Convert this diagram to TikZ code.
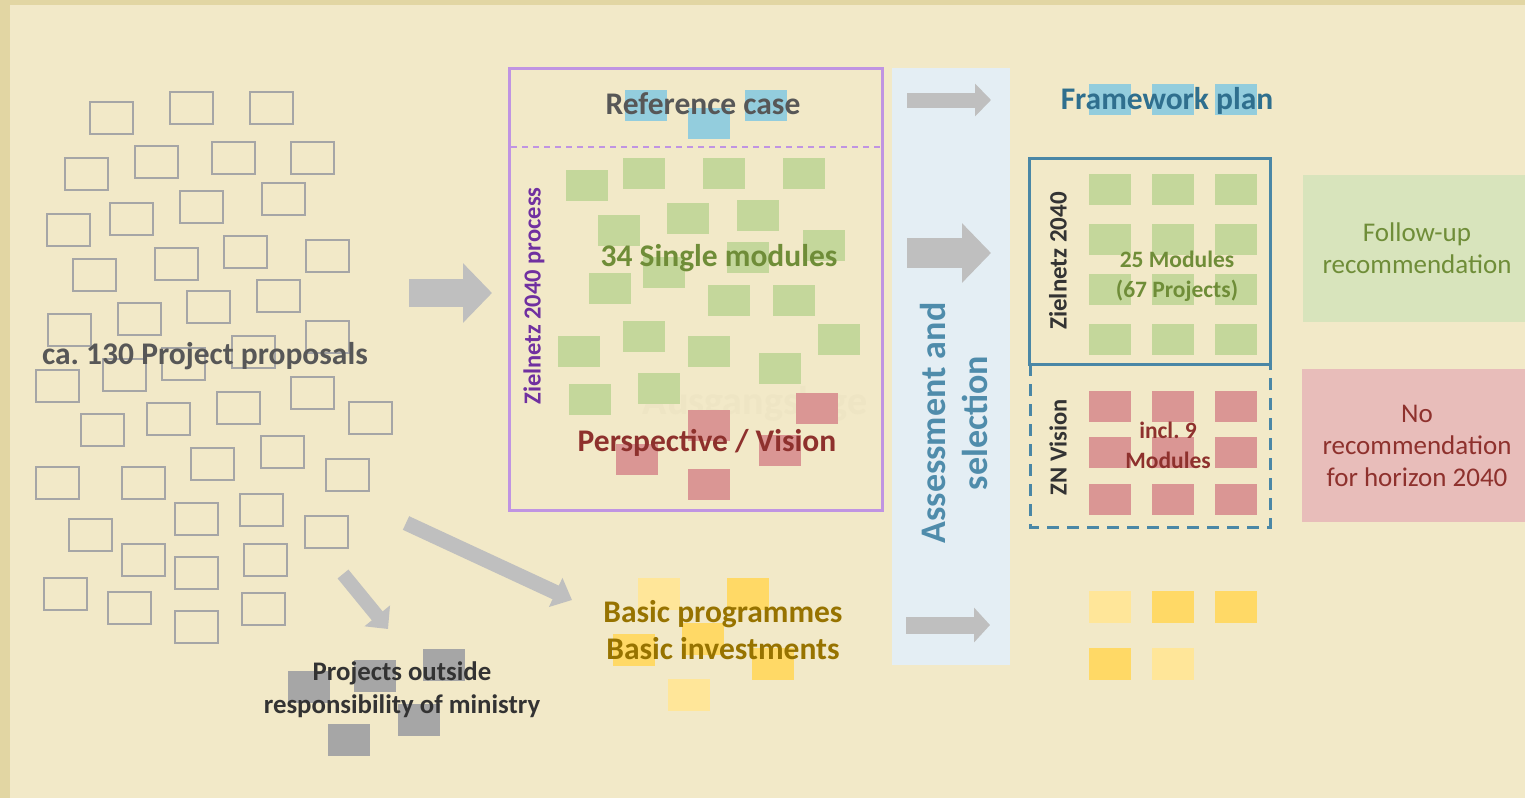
\documentclass[tikz,border=0pt]{standalone}
\usepackage{fontspec}
\setmainfont{Carlito}
\usepackage{tikz}
\usetikzlibrary{arrows.meta}
\frenchspacing

\definecolor{bgbeige}{HTML}{F2E9C8}
\definecolor{framebeige}{HTML}{E2D6A3}
\definecolor{propgrey}{HTML}{A6A6A6}
\definecolor{arrowgrey}{HTML}{BFBFBF}
\definecolor{textgrey}{HTML}{575757}
\definecolor{darkgrey}{HTML}{333333}
\definecolor{modgreen}{HTML}{C4D79B}
\definecolor{txtgreen}{HTML}{6F8D38}
\definecolor{modred}{HTML}{DA9694}
\definecolor{txtred}{HTML}{8E312D}
\definecolor{refblue}{HTML}{93CDDD}
\definecolor{purpleframe}{HTML}{C094E2}
\definecolor{txtpurple}{HTML}{7030A0}
\definecolor{bandblue}{HTML}{E4EEF4}
\definecolor{txtblue}{HTML}{4F8CAB}
\definecolor{txtteal}{HTML}{2F6F8E}
\definecolor{frameteal}{HTML}{4A87A6}
\definecolor{lightyellow}{HTML}{FFE699}
\definecolor{darkyellow}{HTML}{FFD966}
\definecolor{txtgold}{HTML}{977300}
\definecolor{followgreen}{HTML}{D8E4BC}
\definecolor{norecred}{HTML}{E8BDBA}
\definecolor{watermark}{HTML}{EEE5C4}

\begin{document}
\begin{tikzpicture}[x=1pt,y=-1pt,inner sep=0pt,
    proposal/.style={draw=propgrey,line width=2pt},
    blockarrow/.style n args={3}{draw=arrowgrey,line width=#1,-{Triangle[width=#2,length=#3]}},
    big label/.style={font=\bfseries\fontsize{31.5}{37}\selectfont,align=center},
    small label/.style={font=\bfseries\fontsize{23.5}{30}\selectfont,align=center},
    side label/.style={font=\fontsize{27}{32}\selectfont,align=center}]

      \useasboundingbox (0,0) rectangle (1525,798);
      \fill[bgbeige] (0,0) rectangle (1525,798);
      \fill[framebeige] (0,0) rectangle (10,798);
      \fill[framebeige] (0,0) rectangle (1525,5);

      \foreach \x/\y in {90/102,170/92,250/92,65/158,135/146,212/142,291/142,
          47/214,110/203,180/191,262/183,73/259,155/248,224/236,306/240,
          48/314,118/303,187/291,257/280,306/321,232/336,103/359,162/348,
          36/370,217/392,291/377,349/402,81/414,147/403,261/436,36/467,
          122/467,191/448,326/459,69/519,175/503,240/494,305/516,122/544,
          175/557,244/544,44/578,108/592,175/611,242/593}
        \draw[proposal] (\x,\y) rectangle ++(43,32);

      \foreach \x/\y in {288/671,354/660,423/649,398/704,328/724}
        \fill[propgrey] (\x,\y) rectangle ++(42,32);

      \node[font=\bfseries\fontsize{40}{44}\selectfont,text=watermark] (ausgang) at (755,404) {Ausgangslage};
      \draw[purpleframe,line width=3pt] (509,68) rectangle (882,510);
      \draw[purpleframe,line width=1.5pt,dash pattern=on 6pt off 5pt] (511,147) -- (880,147);

      \foreach \x/\y in {625/90,688/108,745/90}
        \fill[refblue] (\x,\y) rectangle ++(42,31);
      \foreach \x/\y in {566/170,623/158,703/158,783/158,598/215,667/203,737/200,
          803/230,727/242,643/257,589/273,708/285,773/285,623/321,558/336,
          688/336,818/324,759/353,569/384,638/373}
        \fill[modgreen] (\x,\y) rectangle ++(42,31);
      \foreach \x/\y in {688/410,796/393,616/444,759/435,688/469}
        \fill[modred] (\x,\y) rectangle ++(42,31);

      \node[big label,text=textgrey] (refcase) at (703,104) {Reference case};
      \node[big label,text=txtgreen] (single) at (719,258) {34 Single modules};
      \node[big label,text=txtred] (vision) at (707,443) {Perspective / Vision};
      \node[font=\bfseries\fontsize{24.5}{28}\selectfont,text=txtpurple,rotate=90] (zprocess) at (534,296) {Zielnetz 2040 process};

      \fill[bandblue] (892,68) rectangle (1010,665);
      \node[font=\bfseries\fontsize{36}{42}\selectfont,text=txtblue,align=center,rotate=90] (assess) at (954,423) {Assessment and\\selection};

      \foreach \x in {1089,1152,1215}
        \fill[refblue] (\x,84) rectangle ++(42,31);
      \node[big label,text=txtteal] (framework) at (1167,101) {Framework plan};

      \foreach \x in {1089,1152,1215}
        \foreach \y in {174,224,274,324}
          \fill[modgreen] (\x,\y) rectangle ++(42,31);
      \foreach \x in {1089,1152,1215}
        \foreach \y in {391,437,484}
          \fill[modred] (\x,\y) rectangle ++(42,31);
      \draw[frameteal,line width=3pt] (1029,158) rectangle (1270,364);
      \draw[frameteal,line width=3pt,dash pattern=on 12pt off 8pt] (1030,364) -- (1030,527) -- (1270,527) -- (1270,364);
      \node[small label,text=txtgreen] (modules) at (1177,276) {25 Modules\\(67 Projects)};
      \node[small label,text=txtred] (incl) at (1168,445) {incl. 9\\Modules};
      \node[font=\bfseries\fontsize{25}{28}\selectfont,text=darkgrey,rotate=90] (zn2040) at (1058,261) {Zielnetz 2040};
      \node[font=\bfseries\fontsize{24.5}{28}\selectfont,text=darkgrey,rotate=90] (znvision) at (1058,447) {ZN Vision};

      \fill[followgreen] (1303,175) rectangle (1525,322);
      \fill[norecred] (1302,369) rectangle (1525,522);
      \node[side label,text=txtgreen] (follow) at (1417,248) {Follow-up\\recommendation};
      \node[side label,text=txtred] (norec) at (1417,446) {No\\recommendation\\for horizon 2040};

      \foreach \x/\y/\c in {638/578/lightyellow,727/578/darkyellow,682/623/darkyellow,
          613/634/darkyellow,752/648/darkyellow,668/679/lightyellow,
          1089/591/lightyellow,1152/591/darkyellow,1215/591/darkyellow,
          1089/648/darkyellow,1152/648/lightyellow}
        \fill[\c] (\x,\y) rectangle ++(42,32);
      \node[big label,text=txtgold] (basic) at (723,630) {Basic programmes\\Basic investments};
      \node[font=\bfseries\fontsize{26.8}{33}\selectfont,align=center,text=darkgrey] (outside) at (402,690) {Projects outside\\responsibility of ministry};
      \node[big label,text=textgrey] (proposals) at (205,356) {ca. 130 Project proposals};

      \coordinate (inS) at (409,293);   \coordinate (inE) at (492,293);
      \coordinate (refS) at (907,100);  \coordinate (refE) at (991,100);
      \coordinate (selS) at (907,253);  \coordinate (selE) at (991,253);
      \coordinate (basS) at (906,625);  \coordinate (basE) at (990,625);
      \coordinate (diaS) at (406,523);  \coordinate (diaE) at (572,600);
      \coordinate (outS) at (343,574);  \coordinate (outE) at (388,629);

      \draw[blockarrow={28pt}{58pt}{29pt}] (inS) -- (inE);
      \draw[blockarrow={15pt}{32pt}{16pt}] (refS) -- (refE);
      \draw[blockarrow={30pt}{58pt}{29pt}] (selS) -- (selE);
      \draw[blockarrow={17pt}{34pt}{16pt}] (basS) -- (basE);
      \draw[blockarrow={15pt}{31pt}{18pt}] (diaS) -- (diaE);
      \draw[blockarrow={14pt}{32pt}{17pt}] (outS) -- (outE);

    \end{tikzpicture}
\end{document}
